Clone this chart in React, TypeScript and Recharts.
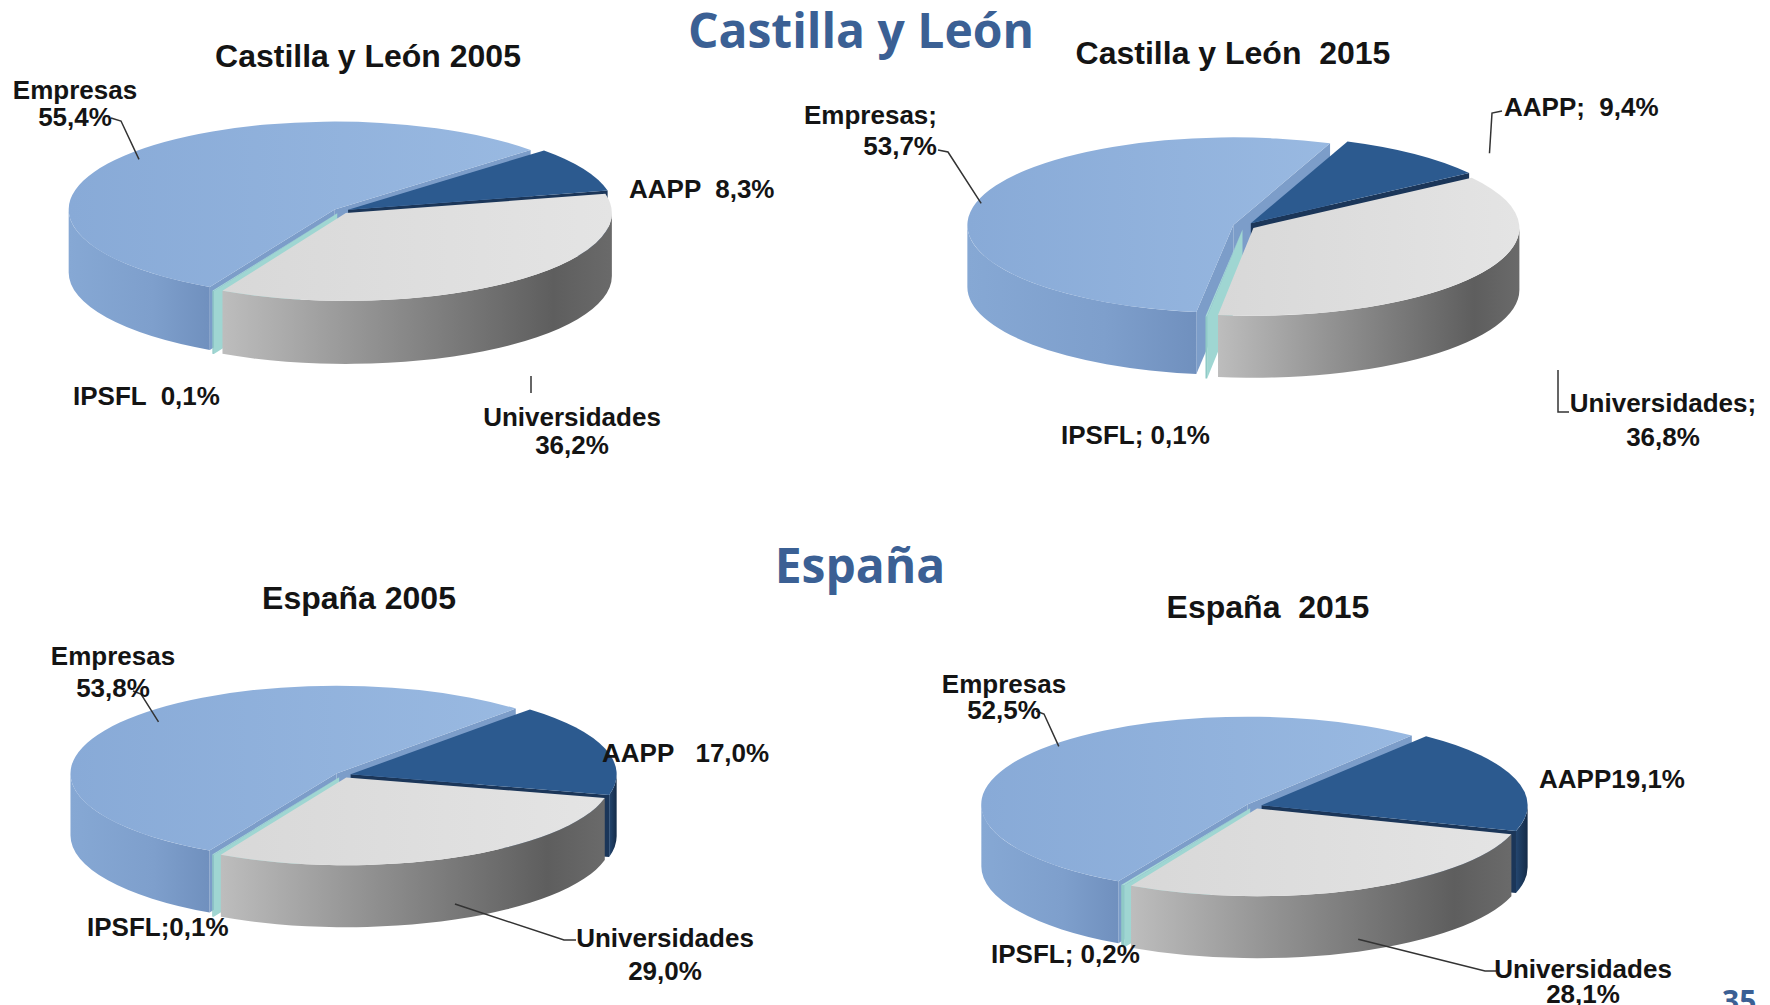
import React from "react";
import { PieChart, Pie } from "recharts";

document.body.style.margin = "0";

const SECTORS = ["Empresas", "AAPP", "Universidades", "IPSFL"];

const CYL_2005 = [55.4, 8.3, 36.2, 0.1];
const CYL_2015 = [53.7, 9.4, 36.8, 0.1];
const ESP_2005 = [53.8, 17.0, 29.0, 0.1];
const ESP_2015 = [52.5, 19.1, 28.1, 0.2];

// text joining each sector name to its value, as written on the slide
const CYL_2005_SEP = ["\n", "  ", "\n", "  "];
const CYL_2015_SEP = [";\n", ";  ", ";\n", "; "];
const ESP_2005_SEP = ["\n", "   ", "\n", ";"];
const ESP_2015_SEP = ["\n", "", "\n", "; "];

const TOP = ["url(#top0)", "#2C5A8F", "url(#top2)", "#A7DBD7"];
const WALL = ["url(#wall0)", "url(#wall1)", "url(#wall2)", "#8FCAC6"];
const FACE = ["#7C9DC9", "#1B3659", "#8C8C8C", "#9FD6D2"];

const BLUE = "#3B6094";
const FONT = "'Liberation Sans', Arial, sans-serif";

type Anchor = "start" | "middle" | "end";
type LabelPos = {
  x: number;
  y: number[];
  anchor: Anchor;
  lead?: number[][];
  at?: { a: number; r: number; z?: number };
};
type ChartCfg = {
  title: string;
  tx: number;
  ty: number;
  values: number[];
  seps: string[];
  cx: number;
  cy: number;
  r: number;
  tilt: number;
  depth: number;
  explode: number;
  start: number;
  labels: LabelPos[];
};

const CHARTS: ChartCfg[] = [
  {
    title: "Castilla y León 2005",
    tx: 368,
    ty: 56,
    values: CYL_2005,
    seps: CYL_2005_SEP,
    cx: 341,
    cy: 211,
    r: 266,
    tilt: 0.33,
    depth: 63,
    explode: 8,
    start: 242,
    labels: [
      { x: 75, y: [90, 117], anchor: "middle", lead: [[111, 118], [121, 121]], at: { a: 0.5, r: 0.93 } },
      { x: 629, y: [189], anchor: "start" },
      { x: 572, y: [417, 445], anchor: "middle", lead: [[531, 376], [531, 393]] },
      { x: 73, y: [396], anchor: "start" },
    ],
  },
  {
    title: "Castilla y León  2015",
    tx: 1233,
    ty: 53,
    values: CYL_2015,
    seps: CYL_2015_SEP,
    cx: 1244,
    cy: 226,
    r: 266,
    tilt: 0.33,
    depth: 62,
    explode: 11,
    start: 262,
    labels: [
      { x: 937, y: [115, 146], anchor: "end", lead: [[938, 150], [948, 152]], at: { a: 0.5, r: 0.98 } },
      { x: 1504, y: [107], anchor: "start", lead: [[1502, 111], [1492, 113]], at: { a: 0.8, r: 1.2 } },
      { x: 1663, y: [403, 437], anchor: "middle", lead: [[1558, 370], [1558, 412], [1569, 412]] },
      { x: 1061, y: [435], anchor: "start" },
    ],
  },
  {
    title: "España 2005",
    tx: 359,
    ty: 598,
    values: ESP_2005,
    seps: ESP_2005_SEP,
    cx: 343,
    cy: 775,
    r: 266,
    tilt: 0.33,
    depth: 62,
    explode: 8,
    start: 241.5,
    labels: [
      { x: 113, y: [656, 688], anchor: "middle", lead: [[133, 691], [141, 694]], at: { a: 0.53, r: 0.89 } },
      { x: 602, y: [753], anchor: "start" },
      { x: 665, y: [938, 971], anchor: "middle", lead: [[576, 940], [564, 940]], at: { a: 0.5, r: 1, z: 0.75 } },
      { x: 87, y: [927], anchor: "start" },
    ],
  },
  {
    title: "España  2015",
    tx: 1268,
    ty: 607,
    values: ESP_2015,
    seps: ESP_2015_SEP,
    cx: 1254,
    cy: 806,
    r: 266,
    tilt: 0.33,
    depth: 62,
    explode: 8,
    start: 241,
    labels: [
      { x: 1004, y: [684, 710], anchor: "middle", lead: [[1036, 711], [1044, 714]], at: { a: 0.55, r: 0.97 } },
      { x: 1539, y: [779], anchor: "start" },
      { x: 1583, y: [969, 994], anchor: "middle", lead: [[1496, 971], [1485, 971]], at: { a: 0.5, r: 1, z: 0.8 } },
      { x: 991, y: [954], anchor: "start" },
    ],
  },
];

const rad = (a: number) => (a * Math.PI) / 180;
const fmt = (v: number) => v.toFixed(1).replace(".", ",") + "%";
const xy = (p: number[]) => `${p[0].toFixed(2)},${p[1].toFixed(2)}`;

type Layer = "face" | "wall" | "top" | "label";

// Recharts lays the slices out (angles, centre, radius); this turns each
// sector into a tilted 3D slab, one layer at a time.
function drawLayer(layer: Layer, c: ChartCfg, p: any) {
  const { cx, cy, outerRadius: R, startAngle, endAngle, index } = p;
  const a1 = Math.max(startAngle, endAngle);
  const a2 = Math.min(startAngle, endAngle);
  const mid = p.midAngle ?? (a1 + a2) / 2;
  const ry = R * c.tilt;
  const ox = c.explode * Math.cos(rad(mid));
  const oy = -c.explode * c.tilt * Math.sin(rad(mid));
  const P = (a: number, r = R, z = 0) => [
    cx + ox + r * Math.cos(rad(a)),
    cy + oy - r * c.tilt * Math.sin(rad(a)) + z,
  ];
  const C = [cx + ox, cy + oy];
  const Cd = [cx + ox, cy + oy + c.depth];

  if (layer === "face") {
    const edges: number[] = [];
    if (Math.cos(rad(a1)) < 0) edges.push(a1);
    if (Math.cos(rad(a2)) > 0) edges.push(a2);
    return (
      <g>
        {edges.map((a) => (
          <path
            key={a}
            d={`M${xy(C)} L${xy(P(a))} L${xy(P(a, R, c.depth))} L${xy(Cd)} Z`}
            fill={FACE[index]}
          />
        ))}
      </g>
    );
  }

  if (layer === "wall") {
    const spans: number[][] = [];
    for (let k = -2; k <= 2; k++) {
      const lo = Math.max(a2, -180 + 360 * k);
      const hi = Math.min(a1, 360 * k);
      if (hi > lo) spans.push([lo, hi]);
    }
    return (
      <g>
        {spans.map(([lo, hi]) => (
          <path
            key={lo}
            d={`M${xy(P(hi))} A${R},${ry} 0 0 1 ${xy(P(lo))} L${xy(P(lo, R, c.depth))} A${R},${ry} 0 0 0 ${xy(P(hi, R, c.depth))} Z`}
            fill={WALL[index]}
          />
        ))}
      </g>
    );
  }

  if (layer === "top") {
    const large = a1 - a2 > 180 ? 1 : 0;
    return (
      <path
        d={`M${xy(C)} L${xy(P(a1))} A${R},${ry} 0 ${large} 1 ${xy(P(a2))} Z`}
        fill={TOP[index]}
      />
    );
  }

  const lab = c.labels[index];
  const text = SECTORS[index] + c.seps[index] + fmt(c.values[index]);
  const lines = text.split("\n");
  let lead: number[][] | null = lab.lead ? [...lab.lead] : null;
  if (lead && lab.at) {
    const a = a1 - lab.at.a * (a1 - a2);
    lead.push(P(a, lab.at.r * R, (lab.at.z ?? 0) * c.depth));
  }
  return (
    <g>
      {lead && (
        <polyline
          points={lead.map(xy).join(" ")}
          fill="none"
          stroke="#333"
          strokeWidth={1.5}
        />
      )}
      <text
        fontFamily={FONT}
        fontWeight="bold"
        fontSize={26}
        fill="#141414"
        textAnchor={lab.anchor}
        style={{ whiteSpace: "pre" }}
      >
        {lines.map((ln, i) => (
          <tspan key={i} x={lab.x} y={lab.y[i]} dominantBaseline="central">
            {ln}
          </tspan>
        ))}
      </text>
    </g>
  );
}

const LAYERS: Layer[] = ["face", "wall", "top", "label"];

function Gradients() {
  return (
    <svg width={0} height={0} style={{ position: "absolute" }}>
      <defs>
        <linearGradient id="top0" x1="0" y1="0" x2="1" y2="0">
          <stop offset="0" stopColor="#88AAD7" />
          <stop offset="1" stopColor="#99B9E1" />
        </linearGradient>
        <linearGradient id="top2" x1="0" y1="0" x2="1" y2="0">
          <stop offset="0" stopColor="#D8D8D8" />
          <stop offset="1" stopColor="#E4E4E4" />
        </linearGradient>
        <linearGradient id="wall0" x1="0" y1="0" x2="1" y2="0">
          <stop offset="0" stopColor="#86A8D4" />
          <stop offset="0.6" stopColor="#7E9FCC" />
          <stop offset="1" stopColor="#7090BE" />
        </linearGradient>
        <linearGradient id="wall1" x1="0" y1="0" x2="1" y2="0">
          <stop offset="0" stopColor="#24466F" />
          <stop offset="1" stopColor="#142B48" />
        </linearGradient>
        <linearGradient id="wall2" x1="0" y1="0" x2="1" y2="0">
          <stop offset="0" stopColor="#BDBDBD" />
          <stop offset="0.35" stopColor="#959595" />
          <stop offset="0.85" stopColor="#5E5E5E" />
          <stop offset="1" stopColor="#6A6A6A" />
        </linearGradient>
      </defs>
    </svg>
  );
}

export default function App() {
  const headStyle: React.CSSProperties = {
    position: "absolute",
    transform: "translate(-50%, -50%)",
    fontFamily: "'Open Sans', sans-serif",
    fontWeight: 700,
    fontSize: 48,
    color: BLUE,
    lineHeight: 1,
    whiteSpace: "pre",
  };
  const subStyle: React.CSSProperties = {
    position: "absolute",
    transform: "translate(-50%, -50%)",
    fontFamily: FONT,
    fontWeight: 700,
    fontSize: 32,
    color: "#141414",
    lineHeight: 1,
    whiteSpace: "pre",
  };

  return (
    <div
      style={{
        position: "relative",
        width: 1770,
        height: 1005,
        overflow: "hidden",
        background: "#fff",
      }}
    >
      <Gradients />
      <PieChart width={1770} height={1005} margin={{ top: 0, right: 0, bottom: 0, left: 0 }}>
        {CHARTS.flatMap((c, ci) => {
          const data = SECTORS.map((name, i) => ({ name, value: c.values[i] }));
          return LAYERS.map((layer) => (
            <Pie
              key={`${ci}-${layer}`}
              data={data}
              dataKey="value"
              nameKey="name"
              cx={c.cx}
              cy={c.cy}
              outerRadius={c.r}
              startAngle={c.start}
              endAngle={c.start - 360}
              fill="none"
              stroke="none"
              legendType="none"
              isAnimationActive={false}
              labelLine={false}
              label={(p: any) => drawLayer(layer, c, p)}
            />
          ));
        })}
      </PieChart>

      <div style={{ ...headStyle, left: 861, top: 30 }}>Castilla y León</div>
      <div style={{ ...headStyle, left: 860, top: 565 }}>España</div>
      {CHARTS.map((c) => (
        <div key={c.title} style={{ ...subStyle, left: c.tx, top: c.ty }}>
          {c.title}
        </div>
      ))}
      <div
        style={{
          ...headStyle,
          fontSize: 30,
          transform: "none",
          left: 1722,
          top: 986,
        }}
      >
        35
      </div>
    </div>
  );
}
